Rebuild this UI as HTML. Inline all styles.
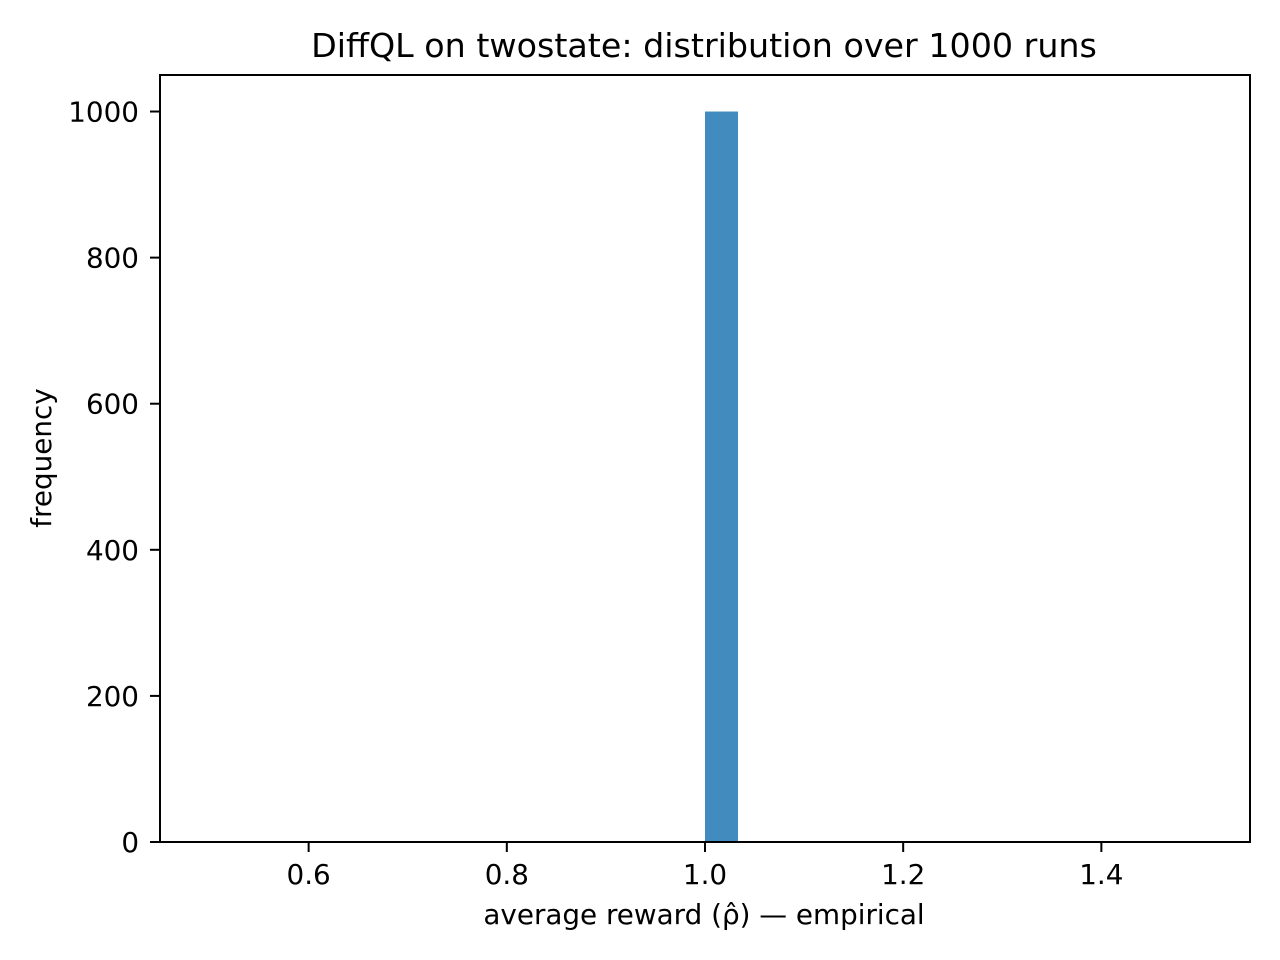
<!DOCTYPE html>
<html><head><meta charset="utf-8"><style>
html,body{margin:0;padding:0;background:#fff;}
svg{display:block;font-family:"DejaVu Sans","Liberation Sans",sans-serif;}
</style></head><body>
<svg id="chart" width="1280" height="960">
<rect width="1280" height="960" fill="#fff"/>
<text x="704" y="57" font-size="33.3" text-anchor="middle">DiffQL on twostate: distribution over 1000 runs</text>
<g id="bars"></g>
<g id="axes"></g>
<text x="704" y="924" font-size="27.8" text-anchor="middle">average reward (ρ̂) — empirical</text>
<text transform="translate(51,458) rotate(-90)" font-size="27.8" text-anchor="middle">frequency</text>
</svg>
<script>
const binStarts = [1.0];
const binCounts = [1000];
const binWidth = 1/30;
const xTicks = [0.6, 0.8, 1.0, 1.2, 1.4];
const xTickLabels = ["0.6", "0.8", "1.0", "1.2", "1.4"];
const yTicks = [0, 200, 400, 600, 800, 1000];
const yTickLabels = ["0", "200", "400", "600", "800", "1000"];

const L=160,R=1250,T=75,B=842, x0=0.45,x1=1.55,y0=0,y1=1050;
const X=v=>L+(v-x0)/(x1-x0)*(R-L);
const Y=v=>B-(v-y0)/(y1-y0)*(B-T);
const NS="http://www.w3.org/2000/svg";
const bars=document.getElementById('bars'), axes=document.getElementById('axes');
function mk(tag,attrs,parent){const e=document.createElementNS(NS,tag);for(const k in attrs)e.setAttribute(k,attrs[k]);parent.appendChild(e);return e;}
binStarts.forEach((s,i)=>{
  const r=mk('rect',{x:X(s),y:Y(binCounts[i]),width:X(s+binWidth)-X(s),height:Y(0)-Y(binCounts[i]),fill:'#418bbf'},bars);
  
  
});
const frame=mk('rect',{x:L,y:T,width:R-L,height:B-T,fill:'none',stroke:'#000','stroke-width':2},axes);


xTicks.forEach((v,i)=>{
  mk('line',{x1:X(v),x2:X(v),y1:B,y2:B+10,stroke:'#000','stroke-width':2},axes);
  const t=mk('text',{x:X(v),y:B+42,'font-size':27.8,'text-anchor':'middle'},axes);
  t.textContent=xTickLabels[i];
  
  
});
yTicks.forEach((v,i)=>{
  mk('line',{x1:L-10,x2:L,y1:Y(v),y2:Y(v),stroke:'#000','stroke-width':2},axes);
  const t=mk('text',{x:L-21,y:Y(v)+10,'font-size':27.8,'text-anchor':'end'},axes);
  t.textContent=yTickLabels[i];
  
  
});
</script>
</body></html>
